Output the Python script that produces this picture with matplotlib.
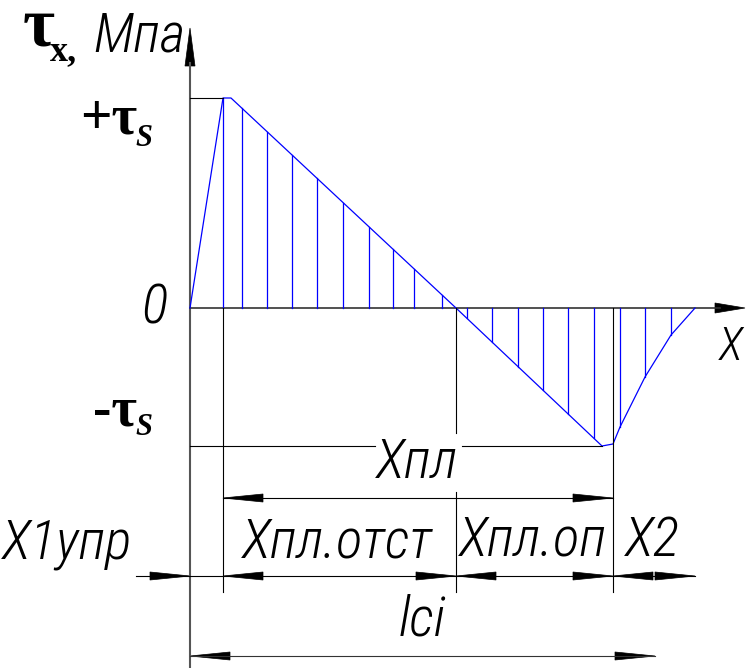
import numpy as np
import matplotlib
matplotlib.use("Agg")
import matplotlib.pyplot as plt
from matplotlib.patches import Polygon

# shear stress diagram tau_x along the contact length
# x measured from the origin, tau positive upwards (drawing units)
tau_s_pos = 210
tau_s_neg = -138

curve_x = [0, 33, 41, 266, 412, 423, 430, 455, 481, 505]
curve_tau = [0, 210, 210, 0, -138, -136, -119, -69, -27, 0]

hatch_x = [33, 52, 77, 102, 127, 153, 179, 203, 224, 252,
           277, 302, 328, 353, 378, 404, 430, 455, 481]

# characteristic points on x
x1_upr = 33
x_zero = 266
x_pl_end = 423
x_end = 505
l_ci = 465

# levels of the dimension lines
dim_pl = -190
dim_row = -268
dim_lci = -348
ext_bottom = -284

GOST = ['Roboto Condensed', 'DejaVu Sans']
SERIF = ['Liberation Serif', 'DejaVu Serif']


def arrowhead(ax, x, y, direction, length=40, half=4, color='black'):
    """Filled arrowhead with its tip at (x, y); direction: 'l', 'r', 'u'"""
    if direction == 'r':
        pts = [(x, y), (x - length, y + half), (x - length, y - half)]
    elif direction == 'l':
        pts = [(x, y), (x + length, y + half), (x + length, y - half)]
    else:
        pts = [(x, y), (x - half, y - length), (x + half, y - length)]
    ax.add_patch(Polygon(pts, closed=True, facecolor=color, edgecolor=color, lw=0.5))


fig = plt.figure(figsize=(7.47, 6.68), dpi=100)
ax = fig.add_axes([0, 0, 1, 1])
ax.set_xlim(-190, 557)
ax.set_ylim(-360, 308)
ax.axis('off')

# axes of the diagram
ax.plot([0, 0], [-360, 245], color='#555555', lw=1.5)
arrowhead(ax, 0, 280, 'u', length=38, half=5)
ax.plot([0, 530], [0, 0], color='#333333', lw=1.2)
arrowhead(ax, 555, 0, 'r', length=30, half=5)

# stress curve and hatching
ax.plot(curve_x, curve_tau, color='blue', lw=0.9)
hatch_top = np.interp(hatch_x, curve_x, curve_tau)
for hx, ht in zip(hatch_x, hatch_top):
    ax.plot([hx, hx], [0, ht], color='blue', lw=0.9)

# +tau_s and -tau_s levels
ax.plot([0, x1_upr], [tau_s_pos, tau_s_pos], color='black', lw=0.8)
ax.plot([0, 185], [tau_s_neg, tau_s_neg], color='black', lw=0.8)
ax.plot([272, 412], [tau_s_neg, tau_s_neg], color='black', lw=0.8)

# extension lines
ax.plot([x1_upr, x1_upr], [0, ext_bottom], color='black', lw=0.8)
ax.plot([x_zero, x_zero], [0, -125], color='black', lw=0.8)
ax.plot([x_zero, x_zero], [-184, ext_bottom], color='black', lw=0.8)
ax.plot([x_pl_end, x_pl_end], [0, ext_bottom], color='black', lw=0.8)

# dimension: X_pl
ax.plot([x1_upr, x_pl_end], [dim_pl, dim_pl], color='black', lw=0.8)
arrowhead(ax, x1_upr, dim_pl, 'l')
arrowhead(ax, x_pl_end, dim_pl, 'r')

# dimension row: X1upr, X_pl.otst, X_pl.op, X2
ax.plot([-54, x_end], [dim_row, dim_row], color='black', lw=0.8)
arrowhead(ax, 0, dim_row, 'r')
arrowhead(ax, x1_upr, dim_row, 'l')
arrowhead(ax, x_zero, dim_row, 'r')
arrowhead(ax, x_zero, dim_row, 'l')
arrowhead(ax, x_pl_end, dim_row, 'r')
arrowhead(ax, x_pl_end, dim_row, 'l')
arrowhead(ax, x_end, dim_row, 'r')

# dimension: l_ci
ax.plot([0, l_ci], [dim_lci, dim_lci], color='#333333', lw=0.8)
arrowhead(ax, 0, dim_lci, 'l')
arrowhead(ax, l_ci, dim_lci, 'r')

# labels
lab = dict(family=GOST, style='italic', weight='light', fontsize=40,
           ha='center', va='baseline')
ax.text(-51, 256, 'Мпа', **lab)
ax.text(-36, -15, '0', **lab)
ax.text(227, -170, 'Хпл', **lab)
ax.text(-123, -251, 'X1упр', **lab)
ax.text(147, -249, 'Хпл.отст', **lab)
ax.text(343, -248, 'Хпл.оп', **lab)
ax.text(462, -248, 'X2', **lab)
ax.text(232, -327, 'lci', **lab)
ax.text(541, -52, 'X', family=GOST, style='italic', weight='light', fontsize=33,
        ha='center', va='baseline')

tau = dict(family=SERIF, weight='bold', va='baseline')
ax.text(-167, 263, 'τ', fontsize=50, ha='left', **tau)
ax.text(-140, 248, 'x,', fontsize=26, ha='left', **tau)
ax.text(-110, 174, '+τ', fontsize=40, ha='left', **tau)
ax.text(-55, 162, 'S', fontsize=22, style='italic', ha='left', **tau)
ax.text(-97, -118, '-τ', fontsize=40, ha='left', **tau)
ax.text(-55, -127, 'S', fontsize=22, style='italic', ha='left', **tau)

fig.savefig('out.png', dpi=100)
